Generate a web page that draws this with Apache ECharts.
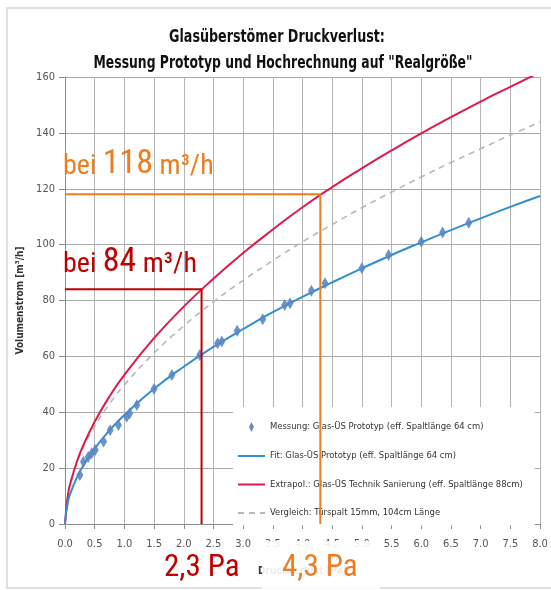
<!DOCTYPE html>
<html>
<head>
<meta charset="utf-8">
<script src="https://cdn.jsdelivr.net/npm/echarts@6/dist/echarts.min.js"></script>
<style>html,body{margin:0;padding:0;background:#fff}#c{width:551px;height:590px}</style>
</head>
<body>
<div id="c"></div>
<script>
// ---- data ----
const titleLines = ['Glasüberstömer Druckverlust:', 'Messung Prototyp und Hochrechnung auf "Realgröße"'];
const seriesNames = [
  'Messung: Glas-ÜS Prototyp (eff. Spaltlänge 64 cm)',
  'Fit: Glas-ÜS Prototyp (eff. Spaltlänge 64 cm)',
  'Extrapol.: Glas-ÜS Technik Sanierung (eff. Spaltlänge 88cm)',
  'Vergleich: Türspalt 15mm, 104cm Länge'
];
const measX = [0.25,0.31,0.39,0.45,0.51,0.65,0.76,0.9,1.04,1.09,1.21,1.5,1.8,2.27,2.57,2.64,2.9,3.33,3.7,3.79,4.15,4.38,5.0,5.45,6.0,6.36,6.8];
const measY = [17.5,22.3,24,25.3,26.5,29.5,33.6,35.4,38.4,39.6,42.6,48.3,53.3,60.5,64.7,65.3,69.2,73.3,78.4,79,83.5,86.2,91.5,96.3,101,104.3,107.8];
const curveX = [0,0.05,0.1,0.2,0.3,0.5,0.75,1,1.5,2,2.5,3,3.5,4,4.5,5,5.5,6,6.5,7,7.5,8];
const fitY   = [0,8.0,11.5,16.6,20.6,27.0,33.5,39.0,48.4,56.3,63.4,69.8,75.8,81.3,86.5,91.5,96.3,100.8,105.2,109.4,113.5,117.4];
const extraY = [0,10.5,15.3,22.3,27.8,36.6,45.7,53.4,66.5,77.8,87.8,97.0,105.4,113.4,120.6,127.3,133.7,139.8,145.6,151.2,156.5,161.7];
const compY  = [0,10.8,15.4,21.9,26.9,35.0,43.0,49.8,61.2,70.9,79.5,87.2,94.3,101.0,107.2,113.2,118.8,124.2,129.4,134.3,139.2,143.8];
const annoPressure = [2.3, 4.3];
const annoFlow = [84, 118];
const annoFlowLabels = ['84', '118'];
const annoPressureLabels = ['2,3 Pa', '4,3 Pa'];
const xTicks = {min: 0, max: 8, step: 0.5};
const yTicks = {min: 0, max: 160, step: 20};

const zip = (a, b) => a.map((v, i) => [v, b[i]]);
const NARROW = "'Liberation Sans Narrow','DejaVu Sans Condensed','Liberation Sans',sans-serif";
const COND = "'Roboto Condensed','Liberation Sans Narrow','Roboto',sans-serif";
const RED_A = '#c00000', ORANGE = '#ed7d1f';

const chart = echarts.init(document.getElementById('c'), null, {renderer: 'canvas'});
chart.setOption({
  backgroundColor: '#fff',
  animation: false,
  grid: {left: 65, right: 11, top: 77, bottom: 66},
  xAxis: {
    type: 'value', min: xTicks.min, max: xTicks.max, interval: xTicks.step,
    name: 'Druckverlust [Pa]', nameLocation: 'middle', nameGap: 42,
    nameTextStyle: {fontFamily: NARROW, fontWeight: 'bold', fontSize: 10, color: '#333'},
    axisLine: {show: true, lineStyle: {color: '#8c8c8c'}},
    axisTick: {show: true, length: 5, lineStyle: {color: '#8c8c8c'}},
    axisLabel: {margin: 15, fontFamily: NARROW, fontSize: 11, color: '#555', formatter: v => v.toFixed(1)},
    splitLine: {show: true, lineStyle: {color: '#b4b4b4', width: 1}}
  },
  yAxis: {
    type: 'value', min: yTicks.min, max: yTicks.max, interval: yTicks.step,
    name: 'Volumenstrom [m³/h]', nameLocation: 'middle', nameGap: 40, nameRotate: 90,
    nameTextStyle: {fontFamily: NARROW, fontWeight: 'bold', fontSize: 10, color: '#333'},
    axisLine: {show: true, lineStyle: {color: '#8c8c8c'}},
    axisTick: {show: true, length: 6, lineStyle: {color: '#8c8c8c'}},
    axisLabel: {margin: 10, fontFamily: NARROW, fontSize: 11, color: '#555'},
    splitLine: {show: true, lineStyle: {color: '#a8a8a8', width: 1}}
  },
  legend: {
    orient: 'vertical', left: 233, top: 407,
    backgroundColor: '#fff', padding: [15, 12, 8, 4],
    itemWidth: 27, itemHeight: 10, itemGap: 19.5,
    textStyle: {fontFamily: NARROW, fontSize: 9.4, color: '#333'},
    data: [
      {name: seriesNames[0], icon: 'path://M4,0L7,6L4,12L1,6Z', itemStyle: {color: '#5a7fb5'}},
      {name: seriesNames[1], itemStyle: {opacity: 0}},
      {name: seriesNames[2], itemStyle: {opacity: 0}},
      {name: seriesNames[3], itemStyle: {opacity: 0}}
    ]
  },
  series: [
    {name: seriesNames[3], type: 'line', smooth: true, symbol: 'none', data: zip(curveX, compY),
     lineStyle: {color: '#b4b8bd', width: 1.6, type: [6, 5]}, itemStyle: {color: '#b4b8bd'}},
    {name: seriesNames[2], type: 'line', smooth: true, symbol: 'none', data: zip(curveX, extraY),
     lineStyle: {color: '#de1a4a', width: 2}, itemStyle: {color: '#de1a4a'}},
    {name: seriesNames[1], type: 'line', smooth: true, symbol: 'none', data: zip(curveX, fitY),
     lineStyle: {color: '#2f8fcf', width: 2}, itemStyle: {color: '#2f9cb8'}},
    {name: seriesNames[0], type: 'scatter', symbol: 'diamond', symbolSize: [7, 12], data: zip(measX, measY),
     itemStyle: {color: '#5a86c5', opacity: 0.9}, z: 3},
    {name: 'anno84', type: 'line', symbol: 'none', z: 10, silent: true,
     data: [[0, annoFlow[0]], [annoPressure[0], annoFlow[0]], [annoPressure[0], 0]],
     lineStyle: {color: RED_A, width: 2}},
    {name: 'anno118', type: 'line', symbol: 'none', z: 10, silent: true,
     data: [[0, annoFlow[1]], [annoPressure[1], annoFlow[1]], [annoPressure[1], 0]],
     lineStyle: {color: ORANGE, width: 2}}
  ],
  graphic: [
    {type: 'rect', z: -10, shape: {x: 7, y: 8, width: 600, height: 580}, style: {fill: 'none', stroke: '#d6d6d6', lineWidth: 1.5}},
    {type: 'text', x: 277, y: 29, scaleX: 0.83, style: {text: titleLines[0], textAlign: 'center', fontFamily: NARROW, fontWeight: 'bold', fontSize: 17, fill: '#111'}},
    {type: 'text', x: 283, y: 55, scaleX: 0.81, style: {text: titleLines[1], textAlign: 'center', fontFamily: NARROW, fontWeight: 'bold', fontSize: 17, fill: '#111'}},
    {type: 'text', x: 63, y: 147, z: 20, style: {
      text: '{a|bei }{b|' + annoFlowLabels[1] + '}{a| m³/h}',
      rich: {a: {fontFamily: COND, fontSize: 28, fill: ORANGE, verticalAlign: 'bottom'}, b: {fontFamily: COND, fontSize: 34, fill: ORANGE, verticalAlign: 'bottom'}}}},
    {type: 'text', x: 63, y: 245, z: 20, style: {
      text: '{a|bei }{b|' + annoFlowLabels[0] + '}{a| m³/h}',
      rich: {a: {fontFamily: COND, fontSize: 28, fill: RED_A, verticalAlign: 'bottom'}, b: {fontFamily: COND, fontSize: 34, fill: RED_A, verticalAlign: 'bottom'}}}},
    {type: 'rect', z: 15, shape: {x: 262, y: 541, width: 118, height: 49}, style: {fill: 'rgba(255,255,255,0.9)'}},
    {type: 'text', x: 164, y: 553, z: 20, style: {text: annoPressureLabels[0], fontFamily: COND, fontSize: 31, fill: RED_A}},
    {type: 'text', x: 282, y: 553, z: 20, style: {text: annoPressureLabels[1], fontFamily: COND, fontSize: 31, fill: ORANGE}}
  ]
});
</script>
</body>
</html>
